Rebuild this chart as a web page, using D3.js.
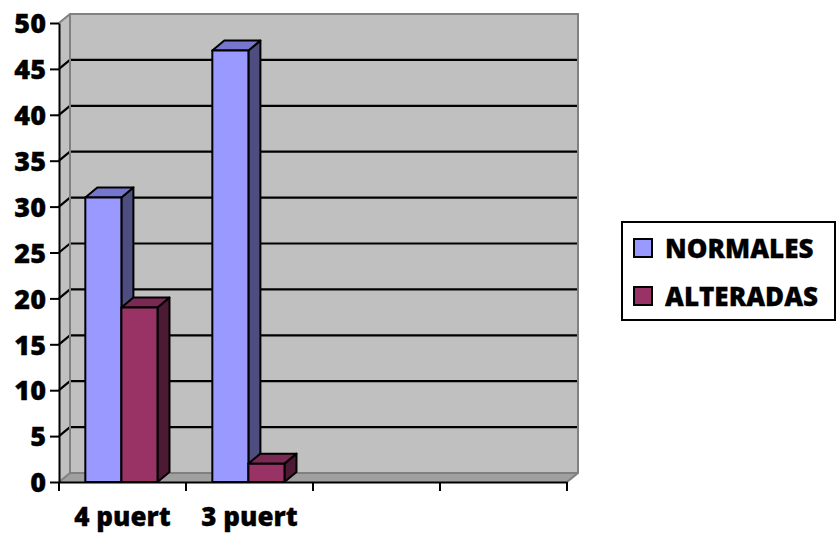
<!DOCTYPE html>
<html>
<head>
<meta charset="utf-8">
<script src="https://cdn.jsdelivr.net/npm/d3@7"></script>
<style>
  body { margin: 0; background: #fff; }
  text { font-family: "Open Sans", Lato, sans-serif; font-weight: 800; fill: #000; stroke: #000; stroke-width: 0.3px; }
</style>
</head>
<body>
<svg id="chart" width="838" height="548"></svg>
<script>
// ---- data ----
const categories = ["4 puert", "3 puert", "", ""];
const seriesNames = ["NORMALES", "ALTERADAS"];
const normales = [31, 47, null, null];
const alteradas = [19, 2, null, null];
const yTicks = [0, 5, 10, 15, 20, 25, 30, 35, 40, 45, 50];

const seriesValues = { NORMALES: normales, ALTERADAS: alteradas };
const palette = {
  NORMALES:  { front: "#9999FF", side: "#4D4D80", top: "#7676CC" },
  ALTERADAS: { front: "#993366", side: "#4D1A33", top: "#7A2952" }
};

// ---- layout ----
const svg = d3.select("#chart");
const plotLeft = 59, plotRight = 567, plotTop = 23, plotBottom = 482;
const wall = { dx: 11, dy: -9 };   // depth of the back wall
const box = { dx: 12, dy: -10 };   // depth of each column

const y = d3.scaleLinear().domain([0, 50]).range([plotBottom, plotTop]);
const x0 = d3.scaleBand().domain(d3.range(categories.length)).range([plotLeft, plotRight]);
const x1 = d3.scaleBand().domain(seriesNames).range([0, x0.bandwidth()])
  .paddingInner(0).paddingOuter(0.76).align(0.48);

const line = d3.line();

// ---- walls and floor ----
const yb = v => y(v) + wall.dy;           // y on the back wall
const bl = plotLeft + wall.dx, br = plotRight + wall.dx;

svg.append("path")   // back wall
  .attr("d", line([[bl, yb(50)], [br, yb(50)], [br, yb(0)], [bl, yb(0)]]) + "Z")
  .attr("fill", "#C0C0C0");
svg.append("path")   // side wall
  .attr("d", line([[plotLeft, y(50)], [bl, yb(50)], [bl, yb(0)], [plotLeft, y(0)]]) + "Z")
  .attr("fill", "#C0C0C0");
svg.append("path")   // floor
  .attr("d", line([[plotLeft, y(0)], [plotRight, y(0)], [br, yb(0)], [bl, yb(0)]]) + "Z")
  .attr("fill", "#A0A0A0");

// gridlines across the side wall and the back wall
const grid = yTicks.filter(v => v > 0 && v < 50);
svg.append("g").selectAll("path").data(grid).join("path")
  .attr("d", v => line([[plotLeft, y(v)], [bl, yb(v)], [br, yb(v)]]))
  .attr("fill", "none").attr("stroke", "#000").attr("stroke-width", 2.2);

// wall edges
const edge = svg.append("g").attr("fill", "none").attr("stroke", "#808080").attr("stroke-width", 2);
edge.append("path").attr("d", line([[plotLeft, y(50)], [bl, yb(50)], [br, yb(50)], [br, yb(0)], [plotRight, y(0)]]));
edge.append("path").attr("d", line([[bl, yb(50)], [bl, yb(0)], [br, yb(0)]]));
edge.append("path").attr("d", line([[plotLeft, y(0)], [bl, yb(0)]]));

// ---- columns ----
const bars = [];
categories.forEach((c, i) => {
  seriesNames.forEach(s => {
    const v = seriesValues[s][i];
    if (v != null) bars.push({ i, s, v });
  });
});

const g = svg.append("g").attr("stroke", "#000").attr("stroke-width", 2).attr("stroke-linejoin", "round");
bars.forEach(d => {
  const xs = x0(d.i) + x1(d.s), w = x1.bandwidth();
  const yt = y(d.v), y0 = y(0);
  const col = palette[d.s];
  g.append("path").attr("fill", col.side)
    .attr("d", line([[xs + w, yt], [xs + w + box.dx, yt + box.dy], [xs + w + box.dx, y0 + box.dy], [xs + w, y0]]) + "Z");
  g.append("path").attr("fill", col.top)
    .attr("d", line([[xs, yt], [xs + box.dx, yt + box.dy], [xs + w + box.dx, yt + box.dy], [xs + w, yt]]) + "Z");
  g.append("rect").attr("fill", col.front)
    .attr("x", xs).attr("y", yt).attr("width", w).attr("height", y0 - yt);
});

// ---- axes ----
const yAxis = svg.append("g").attr("transform", `translate(${plotLeft},0)`)
  .call(d3.axisLeft(y).tickValues(yTicks).tickSize(9).tickSizeOuter(0).tickPadding(4));
yAxis.select(".domain").attr("stroke", "#000").attr("stroke-width", 2);
yAxis.selectAll(".tick line").attr("stroke", "#000").attr("stroke-width", 2);
yAxis.selectAll(".tick text").attr("font-size", 27).attr("font-family", null).attr("dy", "0.36em");

const xAxis = svg.append("g").attr("transform", `translate(0,${plotBottom})`)
  .call(d3.axisBottom(x0).tickSize(0).tickSizeOuter(0).tickPadding(26).tickFormat(i => categories[i]));
xAxis.select(".domain").attr("stroke", "#000").attr("stroke-width", 2);
xAxis.selectAll(".tick text").attr("font-size", 26).attr("font-family", null);

// category boundary ticks
const bounds = x0.domain().map(i => x0(i)).concat([plotRight]);
svg.append("g").selectAll("line").data(bounds).join("line")
  .attr("x1", d => d).attr("x2", d => d).attr("y1", plotBottom).attr("y2", plotBottom + 9)
  .attr("stroke", "#000").attr("stroke-width", 2);

// ---- legend ----
const legend = svg.append("g");
legend.append("rect").attr("x", 622).attr("y", 222).attr("width", 213).attr("height", 98)
  .attr("fill", "#fff").attr("stroke", "#000").attr("stroke-width", 2);
const item = legend.selectAll("g.item").data(seriesNames).join("g").attr("class", "item")
  .attr("transform", (d, k) => `translate(634,${239 + k * 48})`);
item.append("rect").attr("width", 18).attr("height", 18)
  .attr("fill", d => palette[d].front).attr("stroke", "#000").attr("stroke-width", 2);
item.append("text").attr("x", 31).attr("y", 19).attr("font-size", 26).text(d => d);
</script>
</body>
</html>
